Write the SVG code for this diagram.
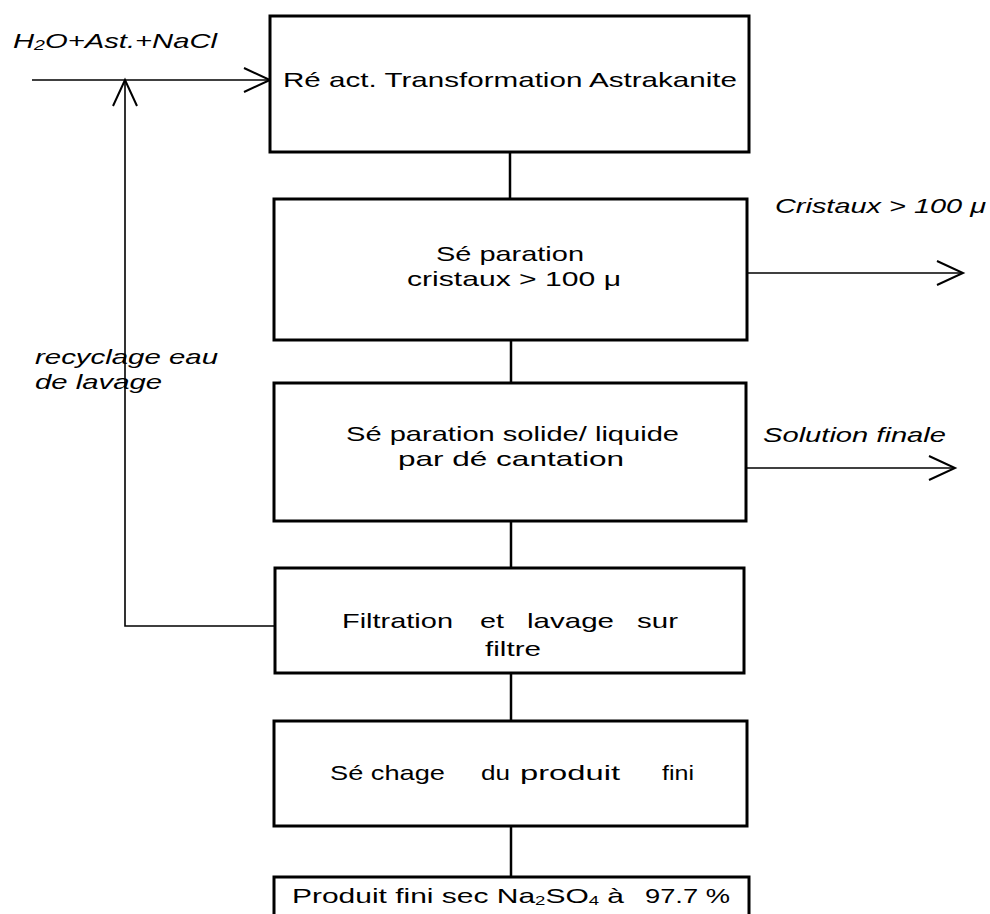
<svg xmlns="http://www.w3.org/2000/svg" width="990" height="914" viewBox="0 0 990 914">
<style>
.box{fill:#fff;stroke:#000;stroke-width:3}
.t{font-family:"Liberation Sans",Arial,sans-serif;font-size:21px;fill:#000}
.i{font-style:italic}
.c{stroke:#000;stroke-width:2.5;fill:none}
.a{stroke:#000;stroke-width:1.6;fill:none}
</style>
<defs>
<marker id="ah" markerUnits="userSpaceOnUse" markerWidth="30" markerHeight="28" refX="27" refY="13" orient="auto">
<path d="M1,1 L27,13 L1,25" fill="none" stroke="#000" stroke-width="2"/>
</marker>
</defs>
<rect width="990" height="914" fill="#fff"/>
<g id="connectors">
<line class="c" x1="510" y1="152" x2="510" y2="199"/>
<line class="c" x1="511" y1="340" x2="511" y2="383"/>
<line class="c" x1="511" y1="521" x2="511" y2="568"/>
<line class="c" x1="511" y1="673" x2="511" y2="721"/>
<line class="c" x1="511" y1="826" x2="511" y2="877"/>
<line class="a" x1="32" y1="80" x2="270" y2="80" marker-end="url(#ah)"/>
<polyline class="a" points="275,626 125,626 125,80" marker-end="url(#ah)"/>
<line class="a" x1="747" y1="273" x2="963" y2="273" marker-end="url(#ah)"/>
<line class="a" x1="746" y1="468" x2="955" y2="468" marker-end="url(#ah)"/>
</g>
<g id="label-input"><text class="t i" x="13" y="48" textLength="204" lengthAdjust="spacingAndGlyphs">H<tspan font-size="14" dy="2">2</tspan><tspan dy="-2">O+Ast.+NaCl</tspan></text></g>
<g id="label-recyclage">
<text class="t i" x="35" y="364" textLength="183" lengthAdjust="spacingAndGlyphs">recyclage eau</text>
<text class="t i" x="35" y="389" textLength="127" lengthAdjust="spacingAndGlyphs">de lavage</text>
</g>
<g id="label-cristaux"><text class="t i" x="775" y="213" textLength="211" lengthAdjust="spacingAndGlyphs">Cristaux &gt; 100 μ</text></g>
<g id="label-solution"><text class="t i" x="763" y="442" textLength="183" lengthAdjust="spacingAndGlyphs">Solution finale</text></g>
<g id="node-reaction">
<rect class="box" x="270" y="16" width="479" height="136"/>
<text class="t" x="283" y="87" textLength="454" lengthAdjust="spacingAndGlyphs">Ré act. Transformation Astrakanite</text>
</g>
<g id="node-separation-cristaux">
<rect class="box" x="274" y="199" width="473" height="141"/>
<text class="t" x="436" y="261" textLength="148" lengthAdjust="spacingAndGlyphs">Sé paration</text>
<text class="t" x="407" y="286" textLength="214" lengthAdjust="spacingAndGlyphs">cristaux &gt; 100 μ</text>
</g>
<g id="node-decantation">
<rect class="box" x="274" y="383" width="472" height="138"/>
<text class="t" x="346" y="441" textLength="333" lengthAdjust="spacingAndGlyphs">Sé paration solide/ liquide</text>
<text class="t" x="398" y="466" textLength="226" lengthAdjust="spacingAndGlyphs">par dé cantation</text>
</g>
<g id="node-filtration">
<rect class="box" x="275" y="568" width="469" height="105"/>
<text class="t" x="342" y="628" textLength="111" lengthAdjust="spacingAndGlyphs">Filtration</text>
<text class="t" x="480" y="628" textLength="24" lengthAdjust="spacingAndGlyphs">et</text>
<text class="t" x="527" y="628" textLength="87" lengthAdjust="spacingAndGlyphs">lavage</text>
<text class="t" x="637" y="628" textLength="41" lengthAdjust="spacingAndGlyphs">sur</text>
<text class="t" x="485" y="656" textLength="56" lengthAdjust="spacingAndGlyphs">filtre</text>
</g>
<g id="node-sechage">
<rect class="box" x="274" y="721" width="473" height="105"/>
<text class="t" x="330" y="780" textLength="115" lengthAdjust="spacingAndGlyphs">Sé chage</text>
<text class="t" x="481" y="780" textLength="29" lengthAdjust="spacingAndGlyphs">du</text>
<text class="t" x="520" y="780" textLength="100" lengthAdjust="spacingAndGlyphs">produit</text>
<text class="t" x="662" y="780" textLength="32" lengthAdjust="spacingAndGlyphs">fini</text>
</g>
<g id="node-produit">
<rect class="box" x="274" y="877" width="475" height="60"/>
<text class="t" x="292" y="903" textLength="332" lengthAdjust="spacingAndGlyphs">Produit fini sec Na<tspan font-size="13" dy="2">2</tspan><tspan dy="-2">SO</tspan><tspan font-size="13" dy="2">4</tspan><tspan dy="-2"> à</tspan></text>
<text class="t" x="645" y="903" textLength="85" lengthAdjust="spacingAndGlyphs">97.7 %</text>
</g>
</svg>
